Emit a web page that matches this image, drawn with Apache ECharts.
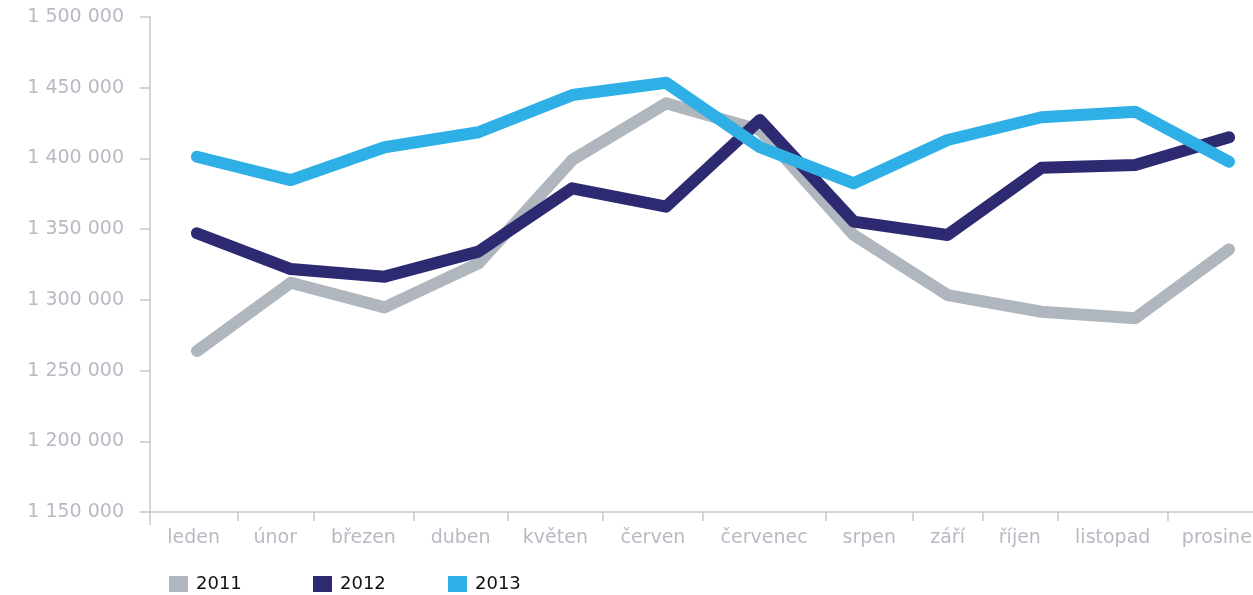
<!DOCTYPE html>
<html>
<head>
<meta charset="utf-8">
<script src="https://cdn.jsdelivr.net/npm/echarts@6/dist/echarts.min.js"></script>
<style>
html,body{margin:0;padding:0;background:#fff;}
#chart{width:1253px;height:595px;}
</style>
</head>
<body>
<div id="chart"></div>
<script>
// ---- data ----
const months = ['leden','únor','březen','duben','květen','červen','červenec','srpen','září','říjen','listopad','prosinec'];
const seriesNames = ['2011','2012','2013'];
const values2011 = [1263800,1312100,1294700,1325800,1398900,1439000,1420100,1345900,1303400,1291600,1287000,1335700];
const values2012 = [1347100,1321800,1316400,1334100,1378900,1365900,1427200,1355300,1345900,1393400,1395400,1414900];
const values2013 = [1401200,1384700,1407900,1418500,1444800,1453500,1407900,1382400,1413000,1429100,1433000,1397700];
// category label cell boundaries on the x axis (in month-index units)
const labelBounds = [-0.5,0.43,1.24,2.31,3.31,4.33,5.39,6.70,7.63,8.37,9.17,10.35,11.5];
const yTicks = [1150000,1200000,1250000,1300000,1350000,1400000,1450000,1500000];

const colors = ['#b0b6bd','#2e2a72','#2eb0e6'];
const labelMids = labelBounds.slice(0,-1).map((b,i)=>(b+labelBounds[i+1])/2);
const tickVals = labelBounds.slice(0,-1);

function fmtNum(v){
  return String(v).replace(/\B(?=(\d{3})+(?!\d))/g,' ');
}

const chart = echarts.init(document.getElementById('chart'), null, {renderer:'canvas'});
const allVals = [values2011, values2012, values2013];
const font = 'DejaVu Sans';
const axisCol = '#c4c8ce';
const textCol = '#b6bac2';

const option = {
  animation:false,
  backgroundColor:'#fff',
  grid:{left:150, width:1126, top:17, bottom:83, containLabel:false, outerBoundsMode:'none'},
  xAxis:[{
    type:'value', min:-0.5, max:11.5,
    splitLine:{show:false},
    axisLine:{show:true, onZero:false, lineStyle:{color:axisCol, width:1.5}},
    axisTick:{show:true, customValues:tickVals, length:9, lineStyle:{color:axisCol, width:1.5}},
    axisLabel:{show:true, customValues:labelMids, margin:17, hideOverlap:false,
      color:textCol, fontFamily:font, fontSize:19,
      formatter:function(v){
        let best=0, d=1e9;
        labelMids.forEach((m,i)=>{ if(Math.abs(m-v)<d){d=Math.abs(m-v);best=i;} });
        return months[best];
      }}
  },{
    type:'value', min:-0.5, max:11.5, position:'bottom',
    splitLine:{show:false},
    axisLine:{show:false, onZero:false},
    axisTick:{show:true, customValues:[-0.5], length:13, lineStyle:{color:axisCol, width:1.5}},
    axisLabel:{show:false}
  }],
  yAxis:{
    type:'value', min:yTicks[0], max:yTicks[yTicks.length-1], interval:50000,
    splitLine:{show:false},
    axisLine:{show:true, onZero:false, lineStyle:{color:axisCol, width:1.5}},
    axisTick:{show:true, length:10, lineStyle:{color:axisCol, width:1.5}},
    axisLabel:{color:textCol, fontFamily:font, fontSize:19, margin:26,
      formatter:function(v){return fmtNum(v);}}
  },
  legend: seriesNames.map((n,i)=>({
    data:[n], left:[164,308,443][i], top:570,
    icon:'rect', itemWidth:19, itemHeight:16, itemGap:0,
    itemStyle:{borderWidth:0},
    textStyle:{color:'#111', fontFamily:font, fontSize:18, padding:[0,0,0,3]}
  })),
  series: seriesNames.map((n,i)=>({
    name:n, type:'line',
    data: allVals[i].map((v,j)=>[j,v]),
    showSymbol:false, symbol:'none',
    color:colors[i],
    itemStyle:{color:colors[i]},
    lineStyle:{color:colors[i], width:12, cap:'round', join:'round'},
    z:2+i,
    clip:false
  }))
};
chart.setOption(option);
</script>
</body>
</html>
